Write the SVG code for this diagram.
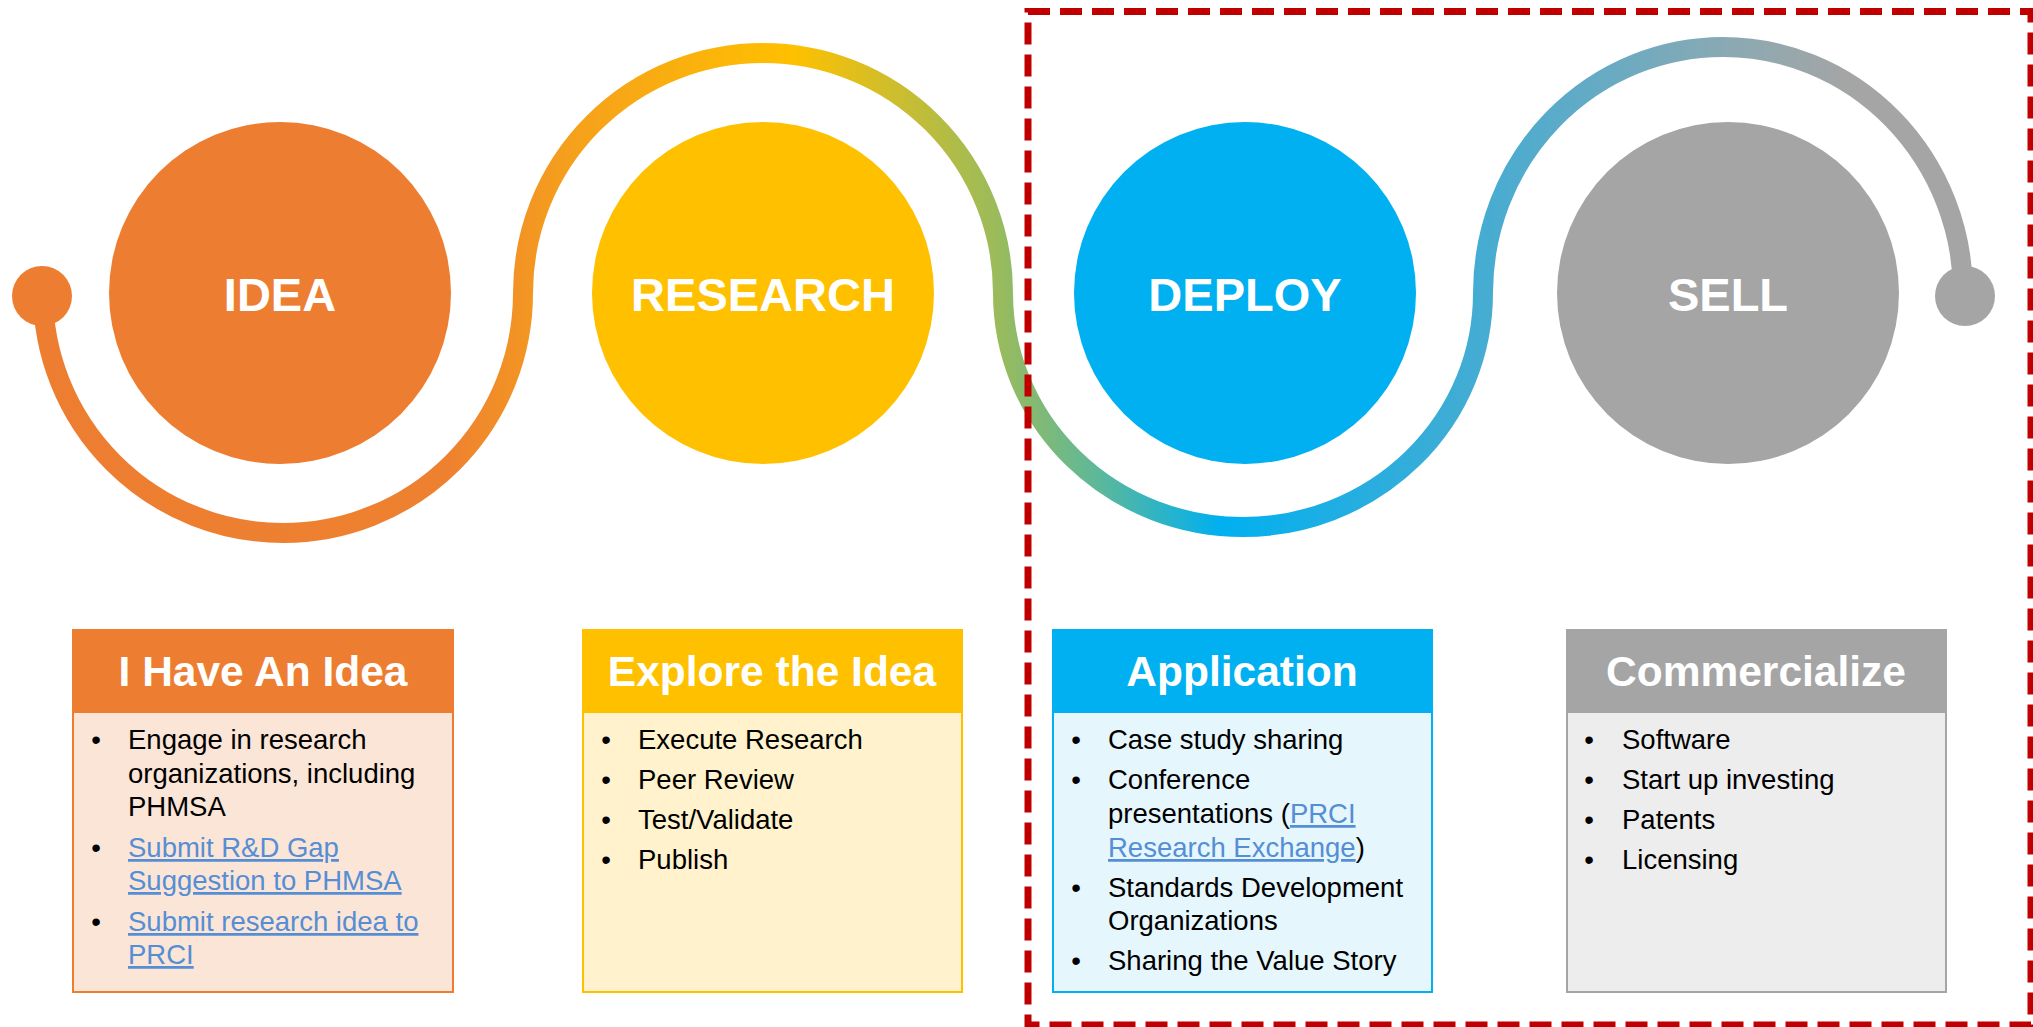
<svg xmlns="http://www.w3.org/2000/svg" width="2033" height="1027" viewBox="0 0 2033 1027">
<style>
.ct{font-family:"Liberation Sans",Arial,sans-serif;font-weight:bold;font-size:47px;fill:#fff;text-anchor:middle}
.ht{font-family:"Liberation Sans",Arial,sans-serif;font-weight:bold;font-size:42.5px;fill:#fff;text-anchor:middle}
.bt{font-family:"Liberation Sans",Arial,sans-serif;font-size:27.5px;fill:#000}
.bu{text-anchor:middle}
.lk{fill:#558ED5;text-decoration:underline}
</style>
<defs>
<linearGradient id="g" gradientUnits="userSpaceOnUse" x1="0" y1="0" x2="2033" y2="0">
<stop offset="0" stop-color="#ED7D31"/>
<stop offset="0.22" stop-color="#EE8130"/>
<stop offset="0.28" stop-color="#F5A01C"/>
<stop offset="0.39" stop-color="#FFC000"/>
<stop offset="0.49" stop-color="#9BBB5B"/>
<stop offset="0.54" stop-color="#5DB89A"/>
<stop offset="0.60" stop-color="#00B0F0"/>
<stop offset="0.73" stop-color="#46ACD2"/>
<stop offset="0.85" stop-color="#8AA9B3"/>
<stop offset="0.91" stop-color="#A5A5A5"/>
<stop offset="1" stop-color="#A5A5A5"/>
</linearGradient>
</defs>
<g id="connectors">
<path d="M 43 293 A 240 240 0 0 0 523 293 A 240 240 0 0 1 1003 293 A 240 234 0 0 0 1483 293 A 240 246 0 0 1 1963 293" fill="none" stroke="url(#g)" stroke-width="20"/>
<circle cx="42" cy="296" r="30" fill="#ED7D31"/>
<circle cx="1965" cy="296" r="30" fill="#A5A5A5"/>
</g>
<g id="idea"><circle cx="280" cy="293" r="171" fill="#ED7D31"/><text class="ct" x="280" y="311">IDEA</text></g>
<g id="research"><circle cx="763" cy="293" r="171" fill="#FFC000"/><text class="ct" x="763" y="311">RESEARCH</text></g>
<g id="deploy"><circle cx="1245" cy="293" r="171" fill="#00B0F0"/><text class="ct" x="1245" y="311">DEPLOY</text></g>
<g id="sell"><circle cx="1728" cy="293" r="171" fill="#A5A5A5"/><text class="ct" x="1728" y="311">SELL</text></g>
<g id="box-idea">
<rect x="73" y="630" width="380" height="362" fill="#FBE5D6" stroke="#ED7D31" stroke-width="2"/>
<rect x="72" y="629" width="382" height="84" fill="#ED7D31"/>
<text class="ht" x="263" y="686">I Have An Idea</text>
<g class="bt">
<text class="bu" x="96" y="749">•</text><text x="128" y="749">Engage in research</text>
<text x="128" y="782.5">organizations, including</text>
<text x="128" y="816">PHMSA</text>
<text class="bu" x="96" y="857">•</text><text class="lk" x="128" y="857">Submit R&amp;D Gap</text>
<text class="lk" x="128" y="890">Suggestion to PHMSA</text>
<text class="bu" x="96" y="931">•</text><text class="lk" x="128" y="931">Submit research idea to</text>
<text class="lk" x="128" y="964">PRCI</text>
</g>
</g>
<g id="box-research">
<rect x="583" y="630" width="379" height="362" fill="#FFF2CC" stroke="#FFC000" stroke-width="2"/>
<rect x="582" y="629" width="381" height="84" fill="#FFC000"/>
<text class="ht" x="772" y="686">Explore the Idea</text>
<g class="bt">
<text class="bu" x="606" y="749">•</text><text x="638" y="749">Execute Research</text>
<text class="bu" x="606" y="789">•</text><text x="638" y="789">Peer Review</text>
<text class="bu" x="606" y="829">•</text><text x="638" y="829">Test/Validate</text>
<text class="bu" x="606" y="869">•</text><text x="638" y="869">Publish</text>
</g>
</g>
<g id="box-deploy">
<rect x="1053" y="630" width="379" height="362" fill="#E5F6FD" stroke="#00B0F0" stroke-width="2"/>
<rect x="1052" y="629" width="381" height="84" fill="#00B0F0"/>
<text class="ht" x="1242" y="686">Application</text>
<g class="bt">
<text class="bu" x="1076" y="749">•</text><text x="1108" y="749">Case study sharing</text>
<text class="bu" x="1076" y="789">•</text><text x="1108" y="789">Conference</text>
<text x="1108" y="823">presentations (<tspan class="lk">PRCI</tspan></text>
<text x="1108" y="857"><tspan class="lk">Research Exchange</tspan>)</text>
<text class="bu" x="1076" y="897">•</text><text x="1108" y="897">Standards Development</text>
<text x="1108" y="930">Organizations</text>
<text class="bu" x="1076" y="970">•</text><text x="1108" y="970">Sharing the Value Story</text>
</g>
</g>
<g id="box-sell">
<rect x="1567" y="630" width="379" height="362" fill="#EDEDED" stroke="#A5A5A5" stroke-width="2"/>
<rect x="1566" y="629" width="381" height="84" fill="#A5A5A5"/>
<text class="ht" x="1756" y="686">Commercialize</text>
<g class="bt">
<text class="bu" x="1589" y="749">•</text><text x="1622" y="749">Software</text>
<text class="bu" x="1589" y="789">•</text><text x="1622" y="789">Start up investing</text>
<text class="bu" x="1589" y="829">•</text><text x="1622" y="829">Patents</text>
<text class="bu" x="1589" y="869">•</text><text x="1622" y="869">Licensing</text>
</g>
</g>
<g id="highlight">
<rect x="1028" y="11.5" width="1003" height="1013.5" fill="none" stroke="#C00000" stroke-width="7" stroke-dasharray="22 10"/>
</g>
</svg>
